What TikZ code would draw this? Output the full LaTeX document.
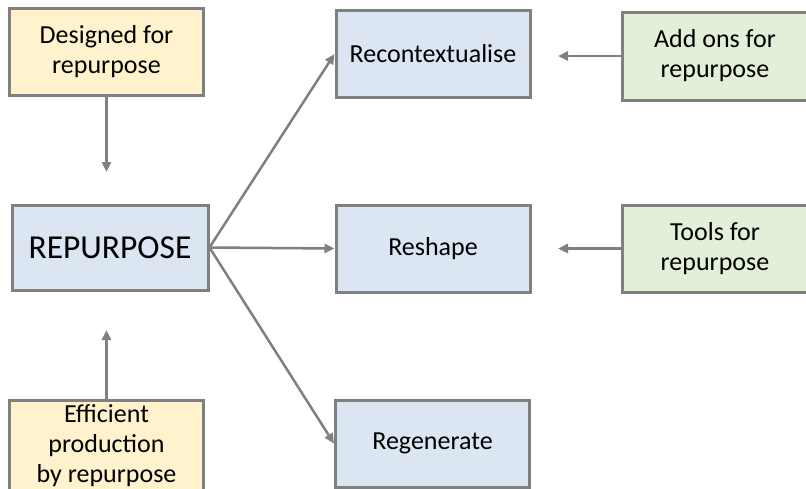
\documentclass[tikz,border=0pt]{standalone}
\usepackage{fontspec}
\setmainfont{Carlito}
\definecolor{rpblue}{HTML}{DCE6F3}
\definecolor{rpyellow}{HTML}{FFF2CC}
\definecolor{rpgreen}{HTML}{E2F0D9}
\definecolor{rpgray}{HTML}{808080}
\usetikzlibrary{arrows.meta,positioning}

\begin{document}
\begin{tikzpicture}[x=1pt,y=-1pt,
  box/.style={draw=rpgray,line width=3pt,minimum width=194pt,minimum height=87pt,font=\fontsize{26}{30}\selectfont,align=center,inner sep=0pt},
  link/.style={draw=rpgray,line width=2.5pt,-{Triangle[length=10pt,width=9pt]}}]
  \clip (0,0) rectangle (806,488);
  \node[box,fill=rpyellow] (design) at (106.5,52) {Designed for\\repurpose};
  \node[box,fill=rpblue,minimum width=196pt,minimum height=85pt,font=\fontsize{33.5}{38}\selectfont] (rep) at (110,247.5) {REPURPOSE};
  \node[box,fill=rpyellow,minimum height=92pt] (effic) at (106.5,446) {Efficient\\production\\by repurpose};
  \node[box,fill=rpblue] (recon) at (433,54) {Recontextualise};
  \node[box,fill=rpblue] (reshape) at (433,248.5) {Reshape};
  \node[box,fill=rpblue] (regen) at (432.5,443.5) {Regenerate};
  \node[box,fill=rpgreen,minimum width=186pt,minimum height=88pt] (addons) at (715,56) {Add ons for\\repurpose};
  \node[box,fill=rpgreen,minimum width=186pt] (tools) at (715,248.5) {Tools for\\repurpose};
  \coordinate (designend) at (106.5,172);
  \coordinate (efficend) at (106.5,330);
  \coordinate (addonsend) at (558,56);
  \coordinate (toolsend) at (558,248.5);
  \draw[link] (design.south) -- (designend);
  \draw[link] (effic.north) -- (efficend);
  \draw[link] (rep.east) -- (recon.west);
  \draw[link] (rep.east) -- (reshape.west);
  \draw[link] (rep.east) -- (regen.west);
  \draw[link] (addons.west) -- (addonsend);
  \draw[link] (tools.west) -- (toolsend);
\end{tikzpicture}
\end{document}
